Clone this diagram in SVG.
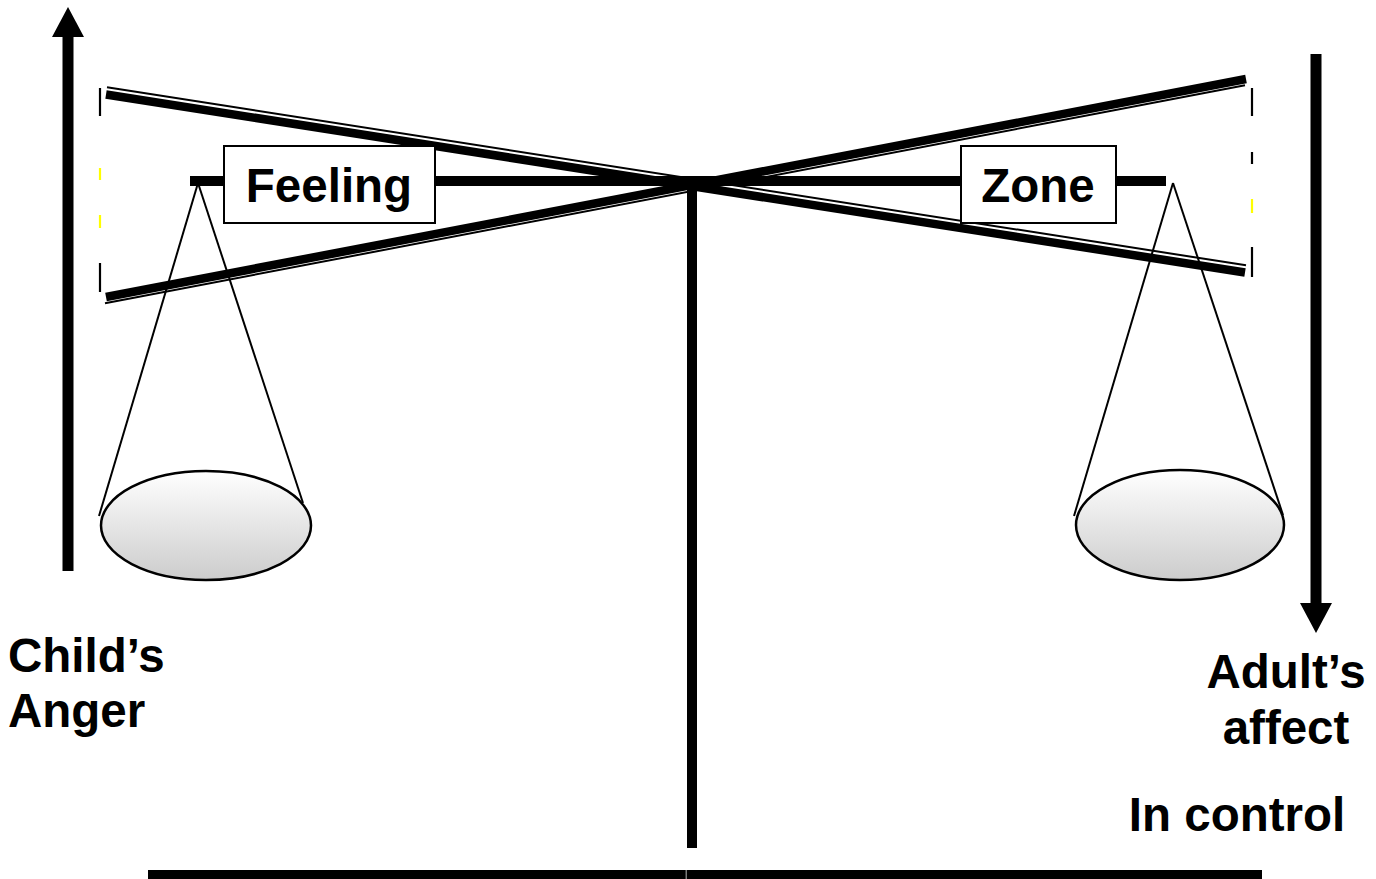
<svg xmlns="http://www.w3.org/2000/svg" width="1376" height="879" viewBox="0 0 1376 879">
<defs>
<linearGradient id="panFill" x1="0" y1="0" x2="0" y2="1">
<stop offset="0" stop-color="#ffffff"/>
<stop offset="1" stop-color="#cccccc"/>
</linearGradient>
<style>
.lbl{font-family:"Liberation Sans",Arial,sans-serif;font-weight:bold;font-size:47.5px;fill:#000}
.thick{stroke:#000;stroke-width:8.5;stroke-linecap:butt;fill:none}
.thin{stroke:#000;stroke-width:2;stroke-linecap:butt;fill:none}
.str{stroke:#000;stroke-width:2;fill:none}
.dash{stroke-width:2.2;fill:none}
.box{fill:#fff;stroke:#000;stroke-width:2}
.pan{fill:url(#panFill);stroke:#000;stroke-width:2.5}
</style>
</defs>
<rect width="1376" height="879" fill="#fff"/>

<g id="dashed-left">
<line class="dash" stroke="#000" x1="100" y1="88" x2="100" y2="116"/>
<line class="dash" stroke="#ffff00" x1="100" y1="168" x2="100" y2="180"/>
<line class="dash" stroke="#ffff00" x1="100" y1="215" x2="100" y2="228"/>
<line class="dash" stroke="#000" x1="100" y1="263" x2="100" y2="292"/>
</g>
<g id="dashed-right">
<line class="dash" stroke="#000" x1="1252" y1="88" x2="1252" y2="116"/>
<line class="dash" stroke="#000" x1="1252" y1="152" x2="1252" y2="164"/>
<line class="dash" stroke="#ffff00" x1="1252" y1="199" x2="1252" y2="213"/>
<line class="dash" stroke="#000" x1="1252" y1="247" x2="1252" y2="277"/>
</g>

<g id="arrow-child">
<rect x="62.5" y="36" width="11" height="535" fill="#000"/>
<polygon points="52,37 84,37 68,7" fill="#000"/>
</g>
<g id="arrow-adult">
<rect x="1310.5" y="54" width="11" height="550" fill="#000"/>
<polygon points="1300,603 1332,603 1316,633" fill="#000"/>
</g>

<g id="beam-tilt-a">
<line class="thick" x1="106" y1="94.5" x2="1245" y2="272.5"/>
<line class="thin" x1="107" y1="87.3" x2="1246" y2="265.3"/>
</g>
<g id="beam-tilt-b">
<line class="thick" x1="106" y1="297" x2="1246" y2="79"/>
<line class="thin" x1="105" y1="303.3" x2="1245" y2="85.3"/>
</g>

<g id="beam-level">
<rect x="190" y="176" width="976" height="10" fill="#000"/>
</g>

<g id="post">
<rect x="687" y="180" width="10" height="668" fill="#000"/>
</g>
<g id="base">
<rect x="148" y="870" width="538" height="10" fill="#000"/>
<rect x="686.5" y="870" width="575.5" height="10" fill="#000"/>
<line x1="686" y1="870" x2="686" y2="879" stroke="#777" stroke-width="1"/>
</g>

<g id="node-feeling">
<rect class="box" x="224" y="146" width="211" height="77"/>
<text class="lbl" x="329" y="202" text-anchor="middle">Feeling</text>
</g>
<g id="node-zone">
<rect class="box" x="961" y="146" width="155" height="77"/>
<text class="lbl" x="1038" y="202" text-anchor="middle">Zone</text>
</g>

<g id="pan-left">
<line class="str" x1="198" y1="183" x2="99" y2="516"/>
<line class="str" x1="198" y1="183" x2="303" y2="503"/>
<ellipse class="pan" cx="206" cy="525.5" rx="105" ry="54.5"/>
</g>
<g id="pan-right">
<line class="str" x1="1173" y1="183" x2="1074" y2="516"/>
<line class="str" x1="1173" y1="183" x2="1283" y2="515"/>
<ellipse class="pan" cx="1180" cy="525" rx="104" ry="55"/>
</g>

<g id="label-child">
<text class="lbl" x="8" y="672">Child’s</text>
<text class="lbl" x="8" y="727">Anger</text>
</g>
<g id="label-adult">
<text class="lbl" x="1286" y="688" text-anchor="middle">Adult’s</text>
<text class="lbl" x="1286" y="744" text-anchor="middle">affect</text>
</g>
<g id="label-control">
<text class="lbl" x="1237" y="831" text-anchor="middle">In control</text>
</g>
</svg>
